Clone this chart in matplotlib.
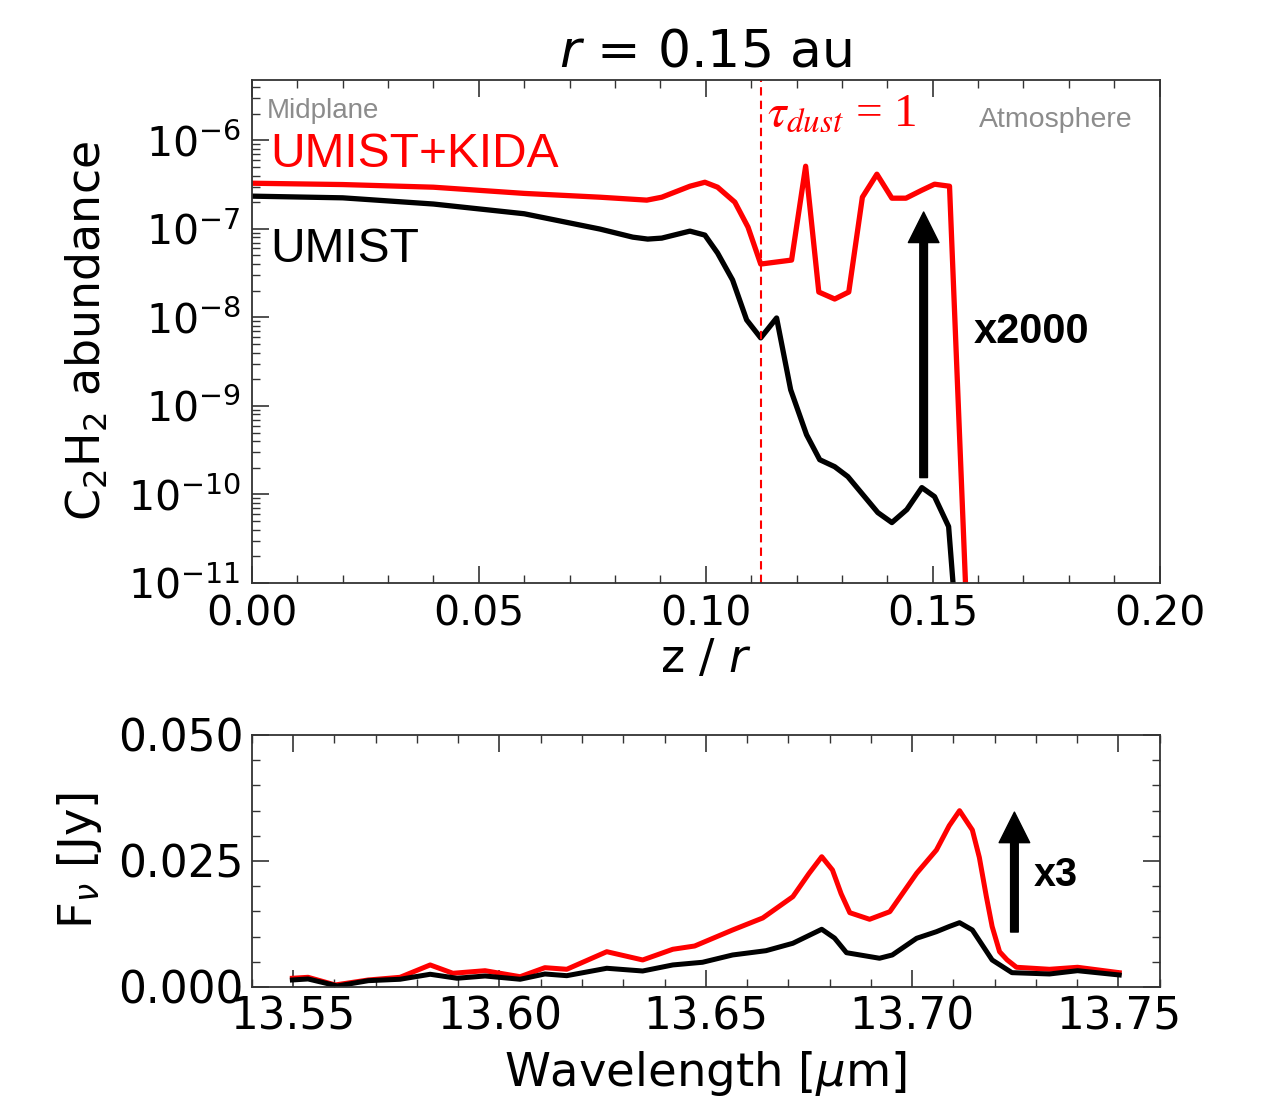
import numpy as np
import matplotlib
matplotlib.use("Agg")
import matplotlib.pyplot as plt
from matplotlib.ticker import MultipleLocator, LogLocator, NullFormatter, FormatStrFormatter

# top panel: C2H2 abundance vs z/r (log10 values)
z_kida = [0.0, 0.02, 0.04, 0.06, 0.0767, 0.0870, 0.0903, 0.0965, 0.0998, 0.1026,
          0.1064, 0.1093, 0.1121, 0.1189, 0.1220, 0.1249, 0.1284, 0.1315, 0.1345,
          0.1377, 0.1410, 0.1441, 0.1476, 0.1504, 0.1537, 0.1580]
logab_kida = [-6.485, -6.50, -6.53, -6.60, -6.643, -6.676, -6.643, -6.519, -6.474, -6.530,
              -6.699, -6.981, -7.398, -7.353, -6.293, -7.714, -7.793, -7.714, -6.643,
              -6.383, -6.654, -6.654, -6.564, -6.496, -6.519, -12.0]

z_umist = [0.0, 0.02, 0.04, 0.06, 0.0767, 0.0839, 0.0872, 0.0903, 0.0965, 0.0998,
           0.1026, 0.1059, 0.1090, 0.1121, 0.1156, 0.1187, 0.1222, 0.1251, 0.1284,
           0.1313, 0.1346, 0.1379, 0.1410, 0.1443, 0.1476, 0.1504, 0.1535, 0.1560]
logab_umist = [-6.631, -6.65, -6.72, -6.83, -7.003, -7.094, -7.116, -7.105, -7.026, -7.071,
               -7.274, -7.578, -8.029, -8.232, -8.007, -8.818, -9.326, -9.608, -9.687,
               -9.799, -10.002, -10.205, -10.318, -10.171, -9.923, -10.025, -10.363, -12.0]

tau1_z = 0.1121

# bottom panel: spectra (Jy)
wl_kida = [13.5498, 13.5536, 13.5602, 13.5682, 13.5759, 13.5832, 13.5887, 13.5965,
           13.6050, 13.6110, 13.6163, 13.6260, 13.6347, 13.6420, 13.6473, 13.6565,
           13.6638, 13.6711, 13.6750, 13.6781, 13.6807, 13.6828, 13.6849, 13.6897,
           13.6946, 13.7011, 13.7059, 13.7090, 13.7115, 13.7146, 13.7163, 13.7180,
           13.7194, 13.7212, 13.7230, 13.7253, 13.7333, 13.7401, 13.7502]
flux_kida = [0.00173, 0.00192, 0.0004, 0.00139, 0.00192, 0.00437, 0.00272, 0.00323,
             0.00204, 0.00383, 0.00351, 0.00700, 0.00536, 0.00748, 0.00813, 0.01131,
             0.01369, 0.01792, 0.0225, 0.02585, 0.02321, 0.0185, 0.01474, 0.01343,
             0.01494, 0.02256, 0.02718, 0.0320, 0.03498, 0.03115, 0.0257, 0.01792,
             0.0120, 0.00700, 0.0054, 0.00391, 0.00351, 0.00391, 0.00284]

wl_umist = [13.5498, 13.5536, 13.5607, 13.5682, 13.5759, 13.5832, 13.5897, 13.5965,
            13.6050, 13.6110, 13.6163, 13.6260, 13.6347, 13.6420, 13.6492, 13.6565,
            13.6646, 13.6711, 13.6752, 13.6781, 13.6812, 13.6841, 13.6921, 13.6952,
            13.7011, 13.7059, 13.7090, 13.7115, 13.7146, 13.7194, 13.7242, 13.7333,
            13.7401, 13.7502]
flux_umist = [0.00139, 0.00159, 0.0002, 0.00125, 0.00153, 0.00252, 0.00173, 0.00218,
              0.00153, 0.00258, 0.00224, 0.00371, 0.00317, 0.00437, 0.0049, 0.00635,
              0.0072, 0.00867, 0.0103, 0.01145, 0.0097, 0.0068, 0.0057, 0.00635,
              0.00966, 0.01097, 0.0120, 0.01276, 0.01131, 0.00536, 0.00284, 0.00258,
              0.00323, 0.00238]

plt.rcParams['font.size'] = 29
plt.rcParams['axes.linewidth'] = 1.3
plt.rcParams['axes.edgecolor'] = '#333333'
plt.rcParams['lines.solid_joinstyle'] = 'round'

fig = plt.figure(figsize=(12.66, 10.97), dpi=100)
ax1 = fig.add_axes([0.199, 0.4686, 0.717, 0.4585])
ax2 = fig.add_axes([0.199, 0.1003, 0.717, 0.2297])

helv = ['Liberation Sans', 'DejaVu Sans']

# ---- top
ax1.plot(z_kida, 10 ** np.array(logab_kida), color='red', lw=3.8)
ax1.plot(z_umist, 10 ** np.array(logab_umist), color='black', lw=3.8)
ax1.axvline(tau1_z, color='red', ls='--', lw=1.5, dashes=(4, 2.5))
ax1.set_yscale('log')
ax1.set_xlim(0, 0.2)
ax1.set_ylim(1e-11, 4.8e-6)
ax1.xaxis.set_major_locator(MultipleLocator(0.05))
ax1.xaxis.set_minor_locator(MultipleLocator(0.01))
ax1.yaxis.set_major_locator(LogLocator(base=10, numticks=20))
ax1.yaxis.set_minor_locator(LogLocator(base=10, subs=np.arange(2, 10), numticks=20))
ax1.yaxis.set_minor_formatter(NullFormatter())
ax1.tick_params(which='both', direction='in', top=True, right=False, color='#333333')
ax1.tick_params(which='major', length=12, width=1.2, pad=8, labelsize=29.5)
ax1.tick_params(which='minor', length=6, width=1.0)
ax1.set_xlabel('z / $r$', fontsize=33, labelpad=2)
ax1.set_ylabel('C$_2$H$_2$ abundance', fontsize=33, labelpad=12)
ax1.set_title('$r$ = 0.15 au', fontsize=37.5, pad=10)

ax1.text(0.0033, 1.8e-6, 'Midplane', color='#8c8c8c', fontsize=20, family=helv)
ax1.text(0.0040, 5.0e-7, 'UMIST+KIDA', color='red', fontsize=34.5, family=helv)
ax1.text(0.0040, 4.2e-8, 'UMIST', color='black', fontsize=34.5, family=helv)
ax1.text(0.194, 1.4e-6, 'Atmosphere', color='#8c8c8c', fontsize=20.5, family=helv, ha='right')
ax1.text(0.1135, 1.45e-6, r'$\tau_{dust}$ = 1', color='red', fontsize=34, math_fontfamily='stix',
         family='Liberation Serif')
ax1.annotate('', xy=(0.148, 10 ** -6.81), xytext=(0.148, 10 ** -9.81),
             arrowprops=dict(facecolor='black', edgecolor='black', width=5.5,
                             headwidth=22, headlength=22, shrink=0))
ax1.text(0.159, 10 ** -8.16, 'x2000', fontsize=30, fontweight='bold', family=helv,
         va='center')

# ---- bottom
ax2.plot(wl_kida, flux_kida, color='red', lw=3.6)
ax2.plot(wl_umist, flux_umist, color='black', lw=3.6)
ax2.set_xlim(13.54, 13.76)
ax2.set_ylim(0, 0.05)
ax2.xaxis.set_major_locator(MultipleLocator(0.05))
ax2.xaxis.set_minor_locator(MultipleLocator(0.01))
ax2.yaxis.set_major_locator(MultipleLocator(0.025))
ax2.yaxis.set_minor_locator(MultipleLocator(0.005))
ax2.yaxis.set_major_formatter(FormatStrFormatter('%.3f'))
ax2.tick_params(which='both', direction='in', top=True, right=True, color='#333333')
ax2.tick_params(which='major', length=12, width=1.2, pad=6, labelsize=31.5)
ax2.tick_params(which='minor', length=6, width=1.0)
ax2.set_xlabel(r'Wavelength [$\mu$m]', fontsize=33.5, labelpad=8)
ax2.set_ylabel(r'F$_\nu$ [Jy]', fontsize=33.5, labelpad=10)
ax2.annotate('', xy=(13.7248, 0.0347), xytext=(13.7248, 0.0109),
             arrowprops=dict(facecolor='black', edgecolor='black', width=5.5,
                             headwidth=22, headlength=22, shrink=0))
ax2.text(13.7296, 0.0222, 'x3', fontsize=28.5, fontweight='bold', family=helv, va='center')

fig.savefig('out.png', dpi=100)
